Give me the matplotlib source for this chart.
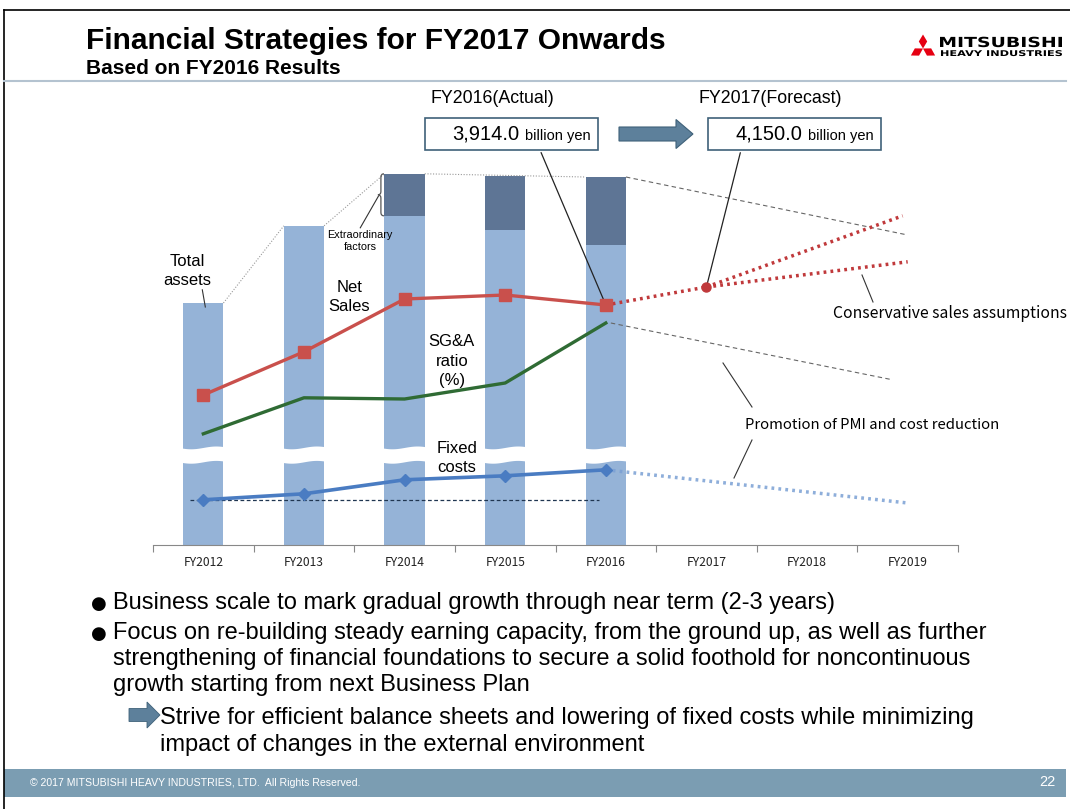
import numpy as np
import matplotlib.pyplot as plt
from matplotlib.patches import Rectangle, Polygon, FancyArrow, PathPatch
from matplotlib.path import Path
from matplotlib.textpath import TextPath
from matplotlib.font_manager import FontProperties
from matplotlib.transforms import Affine2D

# categories on the x axis
years = ["FY2012", "FY2013", "FY2014", "FY2015", "FY2016", "FY2017", "FY2018", "FY2019"]

# relative scale (no y axis shown), 0 = baseline
total_assets = [60.5, 79.8, 92.8, 92.3, 92.0]
assets_base = [60.5, 79.8, 82.3, 78.8, 75.0]      # without extraordinary factors
net_sales = [37.5, 48.3, 61.5, 62.5, 60.0]
sga_ratio = [27.8, 36.8, 36.5, 40.5, 55.5]
fixed_costs = [11.3, 12.8, 16.3, 17.3, 18.8]

# outlook
sales_fc_x = [4, 5]
sales_fc = [60.0, 64.5]
sales_up_x = [5, 6.95]
sales_up = [64.5, 82.3]
sales_low_x = [5, 7]
sales_low = [64.5, 70.8]
fixed_fc_x = [4, 7]
fixed_fc = [18.8, 10.5]

box_actual = "3,914.0"
box_forecast = "4,150.0"

bullet1 = ["Business scale to mark gradual growth through near term (2-3 years)"]
bullet2 = ["Focus on re-building steady earning capacity, from the ground up, as well as further",
           "strengthening of financial foundations to secure a solid foothold for noncontinuous",
           "growth starting from next Business Plan"]
arrow_lines = ["Strive for efficient balance sheets and lowering of fixed costs while minimizing",
               "impact of changes in the external environment"]

plt.rcParams['font.family'] = ['Liberation Sans', 'DejaVu Sans']
JP = ['Noto Sans CJK JP', 'DejaVu Sans']

W, H = 1070, 809
fig = plt.figure(figsize=(W / 100, H / 100), dpi=100)

# slide background (pixel coords)
deco = fig.add_axes([0, 0, 1, 1], zorder=0)
deco.set_xlim(0, W)
deco.set_ylim(H, 0)
deco.axis('off')


def stretched_text(s, x0, x1, ybase, h, weight='bold'):
    # text squeezed into a given box, used for the logo lettering
    tp = TextPath((0, 0), s, size=10, prop=FontProperties(family='DejaVu Sans', weight=weight))
    bb = tp.get_extents()
    sx = (x1 - x0) / bb.width
    sy = h / bb.height
    tr = Affine2D().translate(-bb.x0, 0).scale(sx, -sy).translate(x0, ybase)
    deco.add_patch(PathPatch(tr.transform_path(tp), color='black', lw=0))


# frame, title
deco.plot([4, 4], [10, H], color='black', lw=1.2)
deco.plot([4, W], [10, 10], color='black', lw=1.2)
deco.text(86, 41, "Financial Strategies for FY2017 Onwards", fontsize=21.5, fontweight='bold', va='center')
deco.text(86, 68, "Based on FY2016 Results", fontsize=15, fontweight='bold', va='center')
deco.plot([4, 1066], [81, 81], color='#b4c3d0', lw=1.5)

# logo
c = np.array([923, 48.5])
top = np.array([[0, 0], [4.2, -7], [0, -14], [-4.2, -7]])
for ang in [0, 120, 240]:
    a = np.deg2rad(ang)
    rot = np.array([[np.cos(a), -np.sin(a)], [np.sin(a), np.cos(a)]])
    deco.add_patch(Polygon(top @ rot.T + c, closed=True, color='#e60012', lw=0))
stretched_text("MITSUBISHI", 940, 1062, 47, 10.5)
stretched_text("HEAVY INDUSTRIES", 941, 1062, 56, 6)

# boxes at the top
deco.text(492, 98, "FY2016(Actual)", fontsize=12.8, ha='center', va='center')
deco.text(770, 98, "FY2017(Forecast)", fontsize=12.8, ha='center', va='center')
for x0, val in [(425, box_actual), (708, box_forecast)]:
    deco.add_patch(Rectangle((x0, 118), 173, 32, fill=False, ec='#3f6179', lw=1.2))
    deco.text(x0 + 94, 134, val, fontsize=14.5, ha='right', va='center')
    deco.text(x0 + 100, 135.5, "billion yen", fontsize=10.5, ha='left', va='center')
deco.add_patch(FancyArrow(619, 134, 57, 0, width=14, head_width=29, head_length=17,
                          length_includes_head=False, fc='#5d809b', ec='#3f6179', lw=0.8))

# bullets
deco.text(91, 604, "\u25cf", fontsize=13, va='center', family=['DejaVu Sans'])
deco.text(113, 603, bullet1[0], fontsize=17, va='center')
deco.text(91, 634, "\u25cf", fontsize=13, va='center', family=['DejaVu Sans'])
for i, line in enumerate(bullet2):
    deco.text(113, 633 + 26 * i, line, fontsize=17, va='center')
deco.add_patch(FancyArrow(129, 715, 18, 0, width=13, head_width=26, head_length=13,
                          fc='#5d809b', ec='#3f6179', lw=0.6))
for i, line in enumerate(arrow_lines):
    deco.text(160, 718 + 27 * i, line, fontsize=17, va='center')

# footer
deco.add_patch(Rectangle((4, 769), 1062, 28, color='#7b9db2', lw=0))
deco.text(30, 783, "\u00a9 2017 MITSUBISHI HEAVY INDUSTRIES, LTD.  All Rights Reserved.",
          fontsize=7.6, color='white', va='center')
deco.text(1056, 782, "22", fontsize=10.5, color='white', va='center', ha='right')

# chart
ax = fig.add_axes([153 / W, 1 - 545 / H, 805 / W, 400 / H], zorder=2)
ax.patch.set_alpha(0)
ax.set_xlim(-0.5, 7.5)
ax.set_ylim(0, 100)
x = np.arange(len(total_assets))
extra = [t - b for t, b in zip(total_assets, assets_base)]
ax.bar(x, assets_base, width=0.4, color='#95b3d7', zorder=1)
ax.bar(x, extra, bottom=assets_base, width=0.4, color='#5e7595', zorder=1)

# axis break across the bars
xs = np.linspace(-0.5, 4.5, 400)
wave = 0.35 * np.sin(2 * np.pi * xs / 0.5)
ax.fill_between(xs, 20.8 + wave, 24.4 + wave, color='white', lw=0, zorder=2)

# connectors between the bar tops
ax.plot([0.2, 0.8], [total_assets[0], total_assets[1]], color='#999999', lw=0.8, ls=(0, (1, 1.5)), zorder=1)
ax.plot([1.2, 1.8], [total_assets[1], total_assets[2]], color='#999999', lw=0.8, ls=(0, (1, 1.5)), zorder=1)
ax.plot([2.2, 3.8], [total_assets[2], total_assets[4]], color='#999999', lw=0.8, ls=(0, (1, 1.5)), zorder=1)
ax.plot([4.2, 7.0], [total_assets[4], 77.5], color='#666666', lw=0.8, ls=(0, (4, 3)), zorder=1)
ax.plot([4.05, 6.85], [sga_ratio[4], 41.3], color='#666666', lw=0.8, ls=(0, (4, 3)), zorder=1)

# lines
ax.plot(x, net_sales, color='#c9504c', lw=2.4, marker='s', ms=8, zorder=4)
ax.plot(sales_fc_x, sales_fc, color='#c0393b', lw=2.5, ls=(0, (0.8, 1.2)), zorder=3.5)
ax.plot(sales_up_x, sales_up, color='#c0393b', lw=2.5, ls=(0, (0.8, 1.2)), zorder=3.5)
ax.plot(sales_low_x, sales_low, color='#c0393b', lw=2.5, ls=(0, (0.8, 1.2)), zorder=3.5)
ax.plot([5], [sales_fc[1]], color='#c0393b', marker='o', ms=6.5, zorder=5)
ax.plot(x, sga_ratio, color='#2f6b34', lw=2.4, zorder=4)
ax.plot(x, fixed_costs, color='#4a7cc2', lw=2.6, marker='D', ms=6, zorder=4)
ax.plot(fixed_fc_x, fixed_fc, color='#7aa0d4', lw=2.5, ls=(0, (0.8, 1.2)), alpha=0.85, zorder=3.5)
ax.hlines(fixed_costs[0], -0.13, 3.93, colors='#1f3550', lw=0.9, linestyles=(0, (3, 2)), zorder=3)

# axis styling
for s in ['top', 'right', 'left']:
    ax.spines[s].set_visible(False)
ax.spines['bottom'].set_color('#888888')
ax.set_yticks([])
ax.set_xticks(np.arange(-0.5, 8, 1))
ax.set_xticklabels([])
ax.tick_params(axis='x', length=5, color='#888888', direction='out')
for i, lab in enumerate(years):
    ax.text(i, -4.3, lab, ha='center', va='center', fontsize=8.7, family=JP, color='#222222')

# chart labels
lab_kw = dict(fontsize=12, ha='center', va='center', linespacing=1.35)
ax.text(-0.16, 68.5, "Total\nassets", **lab_kw)
ax.plot([-0.01, 0.02], [63.8, 59.5], color='#333333', lw=0.8)
ax.text(1.45, 62.0, "Net\nSales", **lab_kw)
ax.text(2.47, 46.0, "SG&A\nratio\n(%)", **lab_kw)
ax.text(2.52, 21.75, "Fixed\ncosts", zorder=6, **lab_kw)
ax.text(1.56, 76.0, "Extraordinary\nfactors", fontsize=7.8, ha='center', va='center', linespacing=1.15)
ax.plot([1.74, 1.56], [87.2, 79.3], color='#333333', lw=0.8)

# brace beside the extraordinary part of FY2014
bt, bb = total_assets[2], assets_base[2]
bm = (bt + bb) / 2
brace = Path([(1.795, bt), (1.765, bt), (1.765, bt - 0.8), (1.765, bm + 0.8), (1.765, bm), (1.735, bm),
              (1.765, bm), (1.765, bm - 0.8), (1.765, bb + 0.8), (1.765, bb), (1.795, bb)],
             [Path.MOVETO, Path.CURVE3, Path.CURVE3, Path.LINETO, Path.CURVE3, Path.CURVE3,
              Path.CURVE3, Path.CURVE3, Path.LINETO, Path.CURVE3, Path.CURVE3])
ax.add_patch(PathPatch(brace, fill=False, ec='#555555', lw=0.9, zorder=3))

# leader lines from the boxes
ax.annotate('', xy=(4, net_sales[4]), xytext=(540, 150), textcoords=deco.transData,
            arrowprops=dict(arrowstyle='-', color='#222222', lw=0.9), annotation_clip=False)
ax.annotate('', xy=(5, sales_fc[1]), xytext=(741, 150), textcoords=deco.transData,
            arrowprops=dict(arrowstyle='-', color='#222222', lw=0.9), annotation_clip=False)

# notes on the right
deco.text(833, 313, "Conservative sales assumptions", fontsize=11.3, va='center', family=JP)
deco.plot([862, 873], [275, 302], color='#333333', lw=0.8)
deco.text(745, 425, "Promotion of PMI and cost reduction", fontsize=10.7, va='center', family=JP)
deco.plot([723, 752], [363, 407], color='#333333', lw=0.8)
deco.plot([752, 734], [440, 478], color='#333333', lw=0.8)

fig.savefig("out.png", dpi=100)
